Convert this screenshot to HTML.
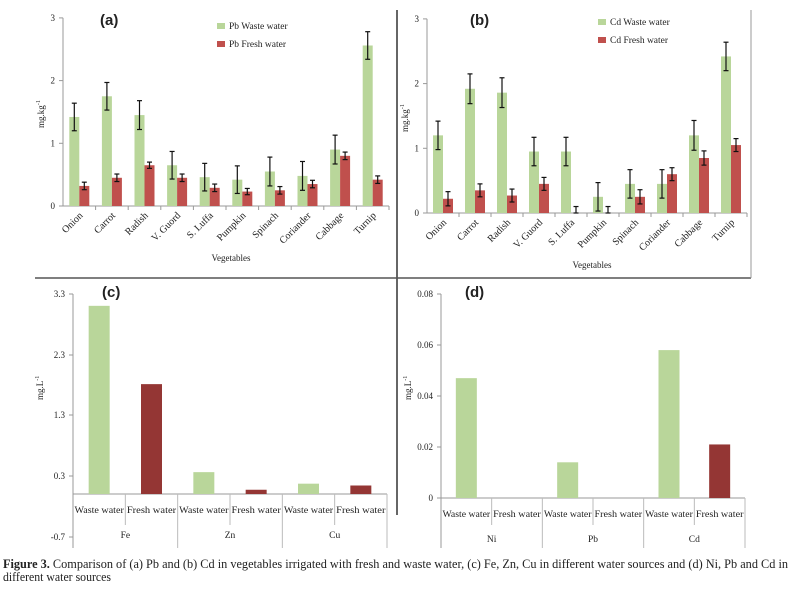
<!DOCTYPE html>
<html><head><meta charset="utf-8"><style>
html,body{margin:0;padding:0;background:#fff;}
svg{display:block;}
text{font-family:"Liberation Serif",serif;fill:#222;}
</style></head><body>
<svg id="s" width="794" height="589" viewBox="0 0 794 589" xmlns="http://www.w3.org/2000/svg"></svg>
<script>
const s=document.getElementById('s');let h='';
const G='#b9d69a',R='#c0504d',D='#943634',AX='#999';
function ln(x1,y1,x2,y2,c,w){h+=`<line x1="${x1}" y1="${y1}" x2="${x2}" y2="${y2}" stroke="${c||AX}" stroke-width="${w||1}"/>`;}
function rc(x,y,w,hh,c){h+=`<rect x="${x}" y="${y}" width="${w}" height="${hh}" fill="${c}"/>`;}
function tx(x,y,t,o){o=o||{};h+=`<text x="${x}" y="${y}" font-size="${o.fs||9}" text-anchor="${o.a||'start'}"${o.tr?` transform="${o.tr}"`:''}${o.st||''}>${t}</text>`;}
ln(397,10,397,515,'#333',1.5);
ln(35,278,751,278,'#555',1.5);
ln(751,10,751,278,'#999',1);
const veg=['Onion','Carrot','Radish','V. Guord','S. Luffa','Pumpkin','Spinach','Coriander','Cabbage','Turnip'];
function veggie(ax,x1,y0,unit,gv,rv,ge,re,lbl,title,tx0,legx,legy){
  ln(ax,y0-3*unit,ax,y0);ln(ax,y0,x1,y0);
  for(let i=0;i<=3;i++){const y=y0-i*unit;ln(ax-4,y,ax,y);tx(ax-8,y+3,i,{a:'end',fs:9});}
  const cw=(x1-ax)/10;
  for(let i=0;i<10;i++){
    const c=ax+cw*(i+.5);ln(ax+cw*(i+1),y0,ax+cw*(i+1),y0+4);
    rc(c-10,y0-gv[i]*unit,10,gv[i]*unit,G);rc(c,y0-rv[i]*unit,10,rv[i]*unit,R);
    [[c-5,gv[i],ge[i]],[c+5,rv[i],re[i]]].forEach(([x,v,e])=>{const a=y0-(v+e)*unit,b=y0-Math.max(0,v-e)*unit;ln(x,a,x,b,'#111',1.2);ln(x-2.5,a,x+2.5,a,'#111',1.2);ln(x-2.5,b,x+2.5,b,'#111',1.2);});
    tx(c+4,y0+10,veg[i],{a:'end',fs:10,tr:`rotate(-45 ${c+4} ${y0+10})`});
  }
  const lx=ax-19,ly=y0-1.5*unit+16;
  tx(lx,ly,'mg.kg<tspan dy="-4" font-size="6">-1</tspan>',{fs:9,tr:`rotate(-90 ${lx} ${ly})`});
  tx((ax+x1)/2+5,y0+55,'Vegetables',{a:'middle',fs:9});
  h+=`<text x="${tx0}" y="25" font-size="15" font-weight="bold" style="font-family:'Liberation Sans',sans-serif">${title}</text>`;
  rc(legx,legy-5,8,6,G);tx(legx+12,legy+1,lbl+' Waste water',{fs:9.5});
  rc(legx,legy+13,8,6,R);tx(legx+12,legy+19,lbl+' Fresh water',{fs:9.5});
}
veggie(63,389,206,62.7,[1.42,1.75,1.45,0.65,0.46,0.42,0.55,0.48,0.9,2.56],[0.32,0.45,0.65,0.45,0.29,0.23,0.25,0.35,0.8,0.42],
 [.22,.22,.23,.22,.22,.22,.23,.23,.23,.22],[.06,.06,.05,.06,.06,.05,.06,.06,.06,.06],'Pb','(a)',100,217,28);
veggie(427,747,213,64.7,[1.2,1.92,1.86,0.95,0.95,0.25,0.45,0.45,1.2,2.42],[0.22,0.35,0.27,0.45,0,0,0.25,0.6,0.85,1.05],
 [.22,.23,.23,.22,.22,.22,.22,.22,.23,.22],[.11,.1,.1,.1,.1,.1,.11,.1,.11,.1],'Cd','(b)',470,598,24);
function grp(ax,x1,y0,ytop,ticks,tickY,vals,groups,title,tx0,ylabY){
  ln(ax,ytop,ax,548);ln(ax,y0,x1,y0);
  ticks.forEach((t,i)=>{const y=tickY[i];ln(ax-4,y,ax,y);tx(ax-8,y+3,t,{a:'end',fs:9});});
  const cw=(x1-ax)/6;
  for(let i=0;i<6;i++){
    const c=ax+cw*(i+.5),v=vals[i];
    if(v>0)rc(c-10.5,y0-v,21,v,i%2?D:G);
    tx(c,y0+19,i%2?'Fresh water':'Waste water',{a:'middle',fs:9.5,st:' textLength="'+(cw-3)+'" lengthAdjust="spacingAndGlyphs"'});
    ln(ax+cw*(i+1),y0,ax+cw*(i+1),i%2?548:525,'#bbb');
  }
  groups.forEach((g,i)=>tx(ax+cw*(2*i+1),y0+44,g,{a:'middle',fs:9.5}));
  h+=`<text x="${tx0}" y="297" font-size="15" font-weight="bold" style="font-family:'Liberation Sans',sans-serif">${title}</text>`;
  tx(ax-30,ylabY,'mg.L<tspan dy="-4" font-size="6">-1</tspan>',{fs:9,tr:`rotate(-90 ${ax-30} ${ylabY})`});
}
const u=60.7,y0c=494;
grp(73,387,y0c,294,['3.3','2.3','1.3','0.3','-0.7'],[294,355,415,476,537],[3.1*u,1.81*u,0.36*u,0.07*u,0.17*u,0.14*u],['Fe','Zn','Cu'],'(c)',102,400);
const ud=2550;
grp(441,745,498,294,['0.08','0.06','0.04','0.02','0'],[294,345,396,447,498],[0.047*ud,0,0.014*ud,0,0.058*ud,0.021*ud],['Ni','Pb','Cd'],'(d)',465,400);
h+=`<text x="3" y="568" font-size="12.5" textLength="785" lengthAdjust="spacingAndGlyphs"><tspan font-weight="bold">Figure 3.</tspan> Comparison of (a) Pb and (b) Cd in vegetables irrigated with fresh and waste water, (c) Fe, Zn, Cu in different water sources and (d) Ni, Pb and Cd in</text>`;
h+=`<text x="3" y="581" font-size="12.5" textLength="108" lengthAdjust="spacingAndGlyphs">different water sources</text>`;
s.innerHTML=h;
</script>
</body></html>
